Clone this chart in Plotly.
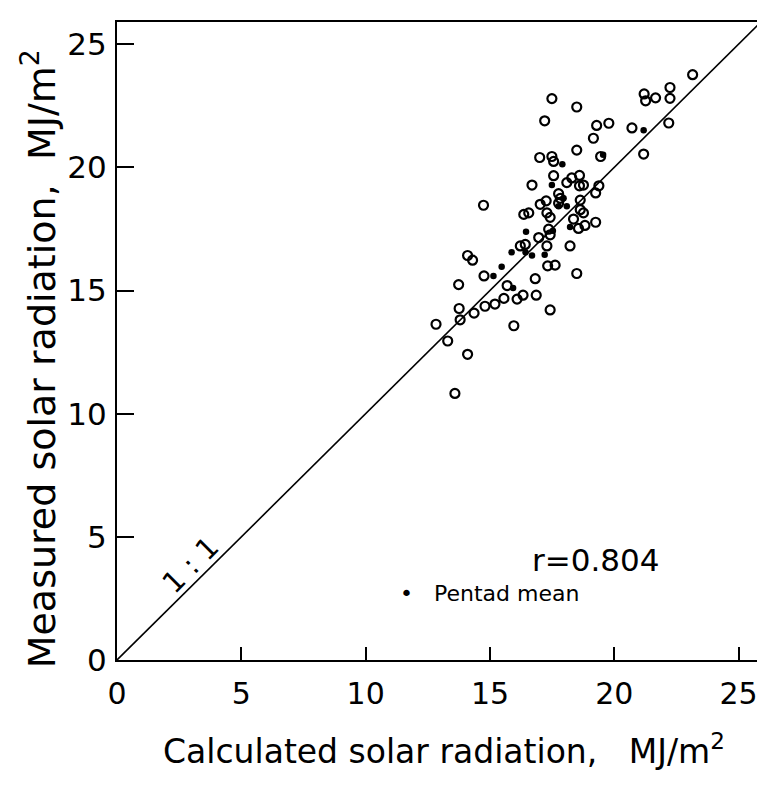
import plotly.graph_objects as go

# Daily values (open circles): calculated vs measured solar radiation, MJ/m2
calc_daily = [23.15, 22.24, 22.24, 21.2, 21.26, 21.66, 22.19, 20.71, 21.18,
              17.49, 18.49, 17.2, 19.29, 19.78, 19.16, 18.49, 17.0, 17.49, 17.56,
              19.45, 17.56, 16.69, 18.29, 18.6, 18.09, 18.6, 18.76, 19.38, 19.25,
              14.74, 17.76, 17.83, 17.26, 17.02, 18.63, 17.76, 18.63, 18.76,
              16.36, 16.56, 17.29, 17.42, 18.36, 19.25, 18.82, 18.56, 17.36, 17.42,
              16.96, 16.42, 16.22, 17.29, 18.22, 14.1, 14.3, 17.32, 17.62, 18.49,
              14.76, 13.74, 16.82, 15.69, 13.76, 13.8, 14.36, 14.8, 15.2, 15.56,
              16.09, 16.33, 16.86, 17.42, 15.96, 12.83, 13.3, 14.1, 13.59]
meas_daily = [23.76, 23.24, 22.8, 22.98, 22.7, 22.82, 21.8, 21.6, 20.54,
              22.79, 22.45, 21.89, 21.7, 21.79, 21.18, 20.7, 20.4, 20.44, 20.24,
              20.44, 19.66, 19.28, 19.57, 19.67, 19.38, 19.25, 19.28, 19.25, 18.96,
              18.46, 18.93, 18.74, 18.64, 18.5, 18.67, 18.54, 18.28, 18.15,
              18.09, 18.15, 18.15, 17.97, 17.9, 17.77, 17.64, 17.52, 17.49, 17.26,
              17.15, 16.87, 16.81, 16.81, 16.81, 16.42, 16.23, 16.0, 16.03, 15.69,
              15.59, 15.24, 15.48, 15.2, 14.27, 13.81, 14.08, 14.36, 14.45, 14.68,
              14.65, 14.81, 14.81, 14.21, 13.57, 13.63, 12.95, 12.41, 10.82]

# Pentad means (filled dots)
calc_pentad = [21.18, 19.55, 17.91, 17.49, 17.96, 17.76, 18.09, 18.22, 17.53,
               16.45, 15.87, 16.43, 16.69, 17.2, 15.47, 15.14, 15.93]
meas_pentad = [21.51, 20.51, 20.13, 19.28, 18.74, 18.42, 18.42, 17.58, 17.43,
               17.39, 16.55, 16.55, 16.42, 16.45, 15.96, 15.59, 15.1]

one_to_one = [0, 25.9]
tick_vals = [0, 5, 10, 15, 20, 25]

FONT = "DejaVu Sans"

fig = go.Figure()
fig.add_trace(go.Scatter(x=one_to_one, y=one_to_one, mode="lines",
                         line=dict(color="black", width=1.6), showlegend=False,
                         hoverinfo="skip"))
fig.add_trace(go.Scatter(x=calc_daily, y=meas_daily, mode="markers",
                         marker=dict(symbol="circle-open", size=9, color="black",
                                     line=dict(width=2.2, color="black")),
                         showlegend=False))
fig.add_trace(go.Scatter(x=calc_pentad, y=meas_pentad, mode="markers",
                         marker=dict(symbol="circle", size=6.5, color="black"),
                         showlegend=False))

axis_common = dict(showgrid=False, zeroline=False, showline=True, linecolor="black",
                   linewidth=2, mirror=True, ticks="inside", tickcolor="black",
                   tickwidth=1.6, tickvals=tick_vals)

fig.update_xaxes(range=[0, 25.9], ticklen=13, ticklabelstandoff=6,
                 tickfont=dict(family=FONT, size=30, color="black"), **axis_common)
fig.update_yaxes(range=[0, 25.9], ticklen=17, ticklabelstandoff=2,
                 tickfont=dict(family=FONT, size=31, color="black"), **axis_common)

fig.add_annotation(text="Calculated solar radiation,   MJ/m<sup>2</sup>",
                   xref="paper", yref="paper", x=0.508, y=-0.141,
                   xanchor="center", yanchor="middle", showarrow=False,
                   font=dict(family=FONT, size=33, color="black"))
fig.add_annotation(text="Measured solar radiation,  MJ/m<sup>2</sup>",
                   xref="paper", yref="paper", x=-0.122, y=0.472,
                   xanchor="center", yanchor="middle", showarrow=False, textangle=-90,
                   font=dict(family=FONT, size=38, color="black"))
fig.add_annotation(text="r=0.804", xref="x", yref="y", x=19.25, y=4.06,
                   xanchor="center", yanchor="middle", showarrow=False,
                   font=dict(family=FONT, size=31, color="black"))
fig.add_annotation(text="•   Pentad mean", xref="x", yref="y", x=11.3, y=2.72,
                   xanchor="left", yanchor="middle", showarrow=False,
                   font=dict(family=FONT, size=22, color="black"))
fig.add_annotation(text="1 : 1", xref="x", yref="y", x=2.95, y=3.85, textangle=-45,
                   xanchor="center", yanchor="middle", showarrow=False,
                   font=dict(family=FONT, size=29, color="black"))

fig.update_layout(width=757, height=782, margin=dict(l=109, r=2, t=14, b=130),
                  paper_bgcolor="white", plot_bgcolor="white",
                  font=dict(family=FONT, color="black"))

fig.write_html("out.html")
